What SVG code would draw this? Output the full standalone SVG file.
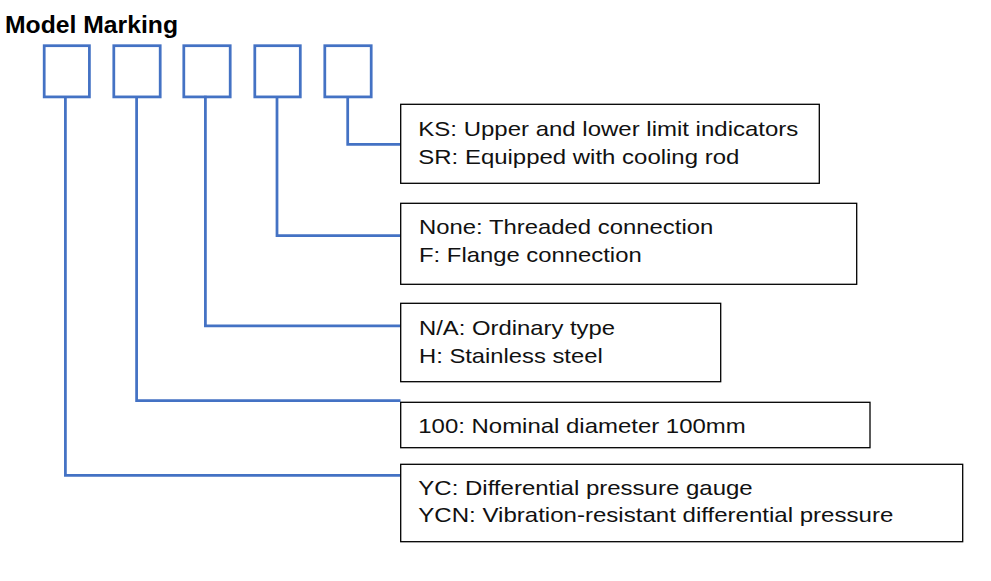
<svg xmlns="http://www.w3.org/2000/svg" width="991" height="581" viewBox="0 0 991 581">
<style>
.bg{fill:#ffffff}
.sq{fill:none;stroke:#4472C4;stroke-width:2.75}
.conn{fill:none;stroke:#4472C4;stroke-width:2.75;stroke-linejoin:miter;stroke-linecap:butt}
.box{fill:#ffffff;stroke:#000000;stroke-width:1.3}
.title{font-family:"Liberation Sans",Arial,sans-serif;font-weight:bold;font-size:23px;fill:#000}
.t{font-family:"Liberation Sans",Arial,sans-serif;font-size:21px;fill:#111}
</style>
<rect class="bg" x="0" y="0" width="991" height="581"/>
<text class="title" x="5" y="33.3" textLength="173" lengthAdjust="spacingAndGlyphs">Model Marking</text>
<g id="digit-boxes">
<rect id="d1" class="sq" x="44.2" y="45.7" width="45.2" height="51.2"/>
<rect id="d2" class="sq" x="113.8" y="45.7" width="46.4" height="51.2"/>
<rect id="d3" class="sq" x="183.8" y="45.7" width="46.4" height="51.2"/>
<rect id="d4" class="sq" x="254.8" y="45.7" width="45.5" height="51.2"/>
<rect id="d5" class="sq" x="324.8" y="45.7" width="46.4" height="51.2"/>
</g>
<g id="connectors">
<polyline class="conn" points="65.4,97 65.4,475.3 400.5,475.3"/>
<polyline class="conn" points="136.6,97 136.6,400.5 400.5,400.5"/>
<polyline class="conn" points="205.4,95.7 205.4,325.8 400.5,325.8"/>
<polyline class="conn" points="277,97 277,235.5 400.5,235.5"/>
<polyline class="conn" points="347.7,97 347.7,144.3 400.5,144.3"/>
</g>
<g id="opt5">
<rect class="box" x="400.7" y="104.3" width="418.6" height="79"/>
<text class="t" x="418.3" y="136" textLength="380" lengthAdjust="spacingAndGlyphs">KS: Upper and lower limit indicators</text>
<text class="t" x="418.3" y="164.3" textLength="321" lengthAdjust="spacingAndGlyphs">SR: Equipped with cooling rod</text>
</g>
<g id="opt4">
<rect class="box" x="400.7" y="203.3" width="456" height="81"/>
<text class="t" x="419" y="234.3" textLength="294.3" lengthAdjust="spacingAndGlyphs">None: Threaded connection</text>
<text class="t" x="419" y="261.7" textLength="222.7" lengthAdjust="spacingAndGlyphs">F: Flange connection</text>
</g>
<g id="opt3">
<rect class="box" x="400.7" y="303.3" width="320" height="78.4"/>
<text class="t" x="419" y="335" textLength="196" lengthAdjust="spacingAndGlyphs">N/A: Ordinary type</text>
<text class="t" x="419" y="363.3" textLength="183.7" lengthAdjust="spacingAndGlyphs">H: Stainless steel</text>
</g>
<g id="opt2">
<rect class="box" x="400.7" y="402.3" width="469.3" height="45.4"/>
<text class="t" x="418.3" y="433.3" textLength="327.4" lengthAdjust="spacingAndGlyphs">100: Nominal diameter 100mm</text>
</g>
<g id="opt1">
<rect class="box" x="400.7" y="464.3" width="562" height="77.4"/>
<text class="t" x="418.3" y="495" textLength="334.4" lengthAdjust="spacingAndGlyphs">YC: Differential pressure gauge</text>
<text class="t" x="418.3" y="521.7" textLength="475" lengthAdjust="spacingAndGlyphs">YCN: Vibration-resistant differential pressure</text>
</g>
</svg>
